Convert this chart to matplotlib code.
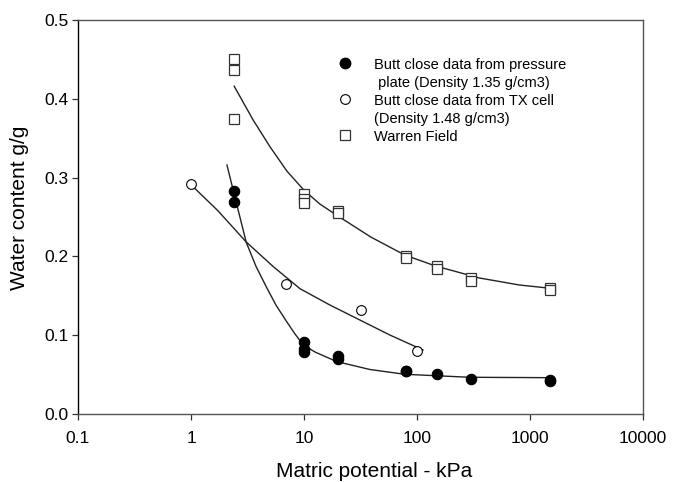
import matplotlib
matplotlib.use("Agg")
import matplotlib.pyplot as plt
from matplotlib.lines import Line2D

plt.rcParams['font.family'] = ['Liberation Sans', 'DejaVu Sans']

# Data points
pp_x = [2.4, 2.4, 10, 10, 10, 20, 20, 80, 80, 150, 300, 1500, 1500]
pp_y = [0.283, 0.269, 0.092, 0.083, 0.079, 0.073, 0.070, 0.055, 0.054, 0.051, 0.045, 0.043, 0.042]

tx_x = [1, 7, 32, 100]
tx_y = [0.292, 0.165, 0.132, 0.080]

wf_x = [2.4, 2.4, 2.4, 10, 10, 10, 20, 20, 80, 80, 150, 150, 300, 300, 1500, 1500]
wf_y = [0.450, 0.437, 0.374, 0.279, 0.273, 0.268, 0.258, 0.255, 0.200, 0.198,
        0.188, 0.184, 0.172, 0.169, 0.160, 0.157]

# Fitted curves
pp_fit_x = [2.08, 2.51, 3.08, 3.77, 4.69, 5.66, 7.04, 8.33, 9.86, 12.5, 19.4, 38.2, 77.9, 146, 292, 1452]
pp_fit_y = [0.316, 0.269, 0.218, 0.187, 0.160, 0.138, 0.117, 0.1015, 0.0876, 0.0787, 0.0666,
            0.0565, 0.0504, 0.0486, 0.0466, 0.0461]

tx_fit_x = [1.0, 1.74, 3.08, 5.33, 9.22, 16.96, 31.2, 57.4, 113]
tx_fit_y = [0.291, 0.2576, 0.2183, 0.1872, 0.1590, 0.1383, 0.1193, 0.1003, 0.0812]

wf_fit_x = [2.41, 3.55, 5.01, 7.08, 10.0, 13.8, 19.6, 39.0, 77.8, 146, 357, 806, 1574]
wf_fit_y = [0.416, 0.373, 0.339, 0.308, 0.284, 0.2665, 0.252, 0.2246, 0.2018, 0.1878,
            0.1726, 0.1637, 0.1593]

labels = ["Butt close data from pressure\n plate (Density 1.35 g/cm3)",
          "Butt close data from TX cell\n(Density 1.48 g/cm3)",
          "Warren Field"]

xticks = [0.1, 1, 10, 100, 1000, 10000]
xticklabels = ["0.1", "1", "10", "100", "1000", "10000"]
yticks = [0.0, 0.1, 0.2, 0.3, 0.4, 0.5]
yticklabels = ["0.0", "0.1", "0.2", "0.3", "0.4", "0.5"]

fig = plt.figure(figsize=(6.75, 4.82), dpi=100)
ax = fig.add_axes([78/675, 68/482, (643-78)/675, (414-20)/482])

lc = '#222222'
ax.plot(pp_fit_x, pp_fit_y, color=lc, lw=1.0, zorder=2)
ax.plot(tx_fit_x, tx_fit_y, color=lc, lw=1.0, zorder=2)
ax.plot(wf_fit_x, wf_fit_y, color=lc, lw=1.0, zorder=2)

ax.plot(pp_x, pp_y, 'o', ms=7.5, mfc='black', mec='black', mew=0.8, ls='none', zorder=3)
ax.plot(tx_x, tx_y, 'o', ms=7, mfc='white', mec='black', mew=0.8, ls='none', zorder=3)
ax.plot(wf_x, wf_y, 's', ms=6.5, mfc='white', mec='#333333', mew=0.9, ls='none', zorder=3)

ax.set_xscale('log')
ax.set_xlim(0.1, 10000)
ax.set_ylim(0, 0.5)
ax.set_xticks(xticks)
ax.set_xticklabels(xticklabels)
ax.xaxis.set_minor_locator(matplotlib.ticker.NullLocator())
ax.set_yticks(yticks)
ax.set_yticklabels(yticklabels)
ax.tick_params(axis='both', direction='out', length=4, width=0.9, labelsize=12.5, color='#333333')
ax.tick_params(axis='x', pad=8)
ax.tick_params(axis='y', pad=3)

for s in ['top', 'right', 'bottom']:
    ax.spines[s].set_color('#555555')
    ax.spines[s].set_linewidth(1.0)
ax.spines['left'].set_color('black')
ax.spines['left'].set_linewidth(1.0)

ax.set_xlabel("Matric potential - kPa", fontsize=15)
ax.set_ylabel("Water content g/g", fontsize=15)
ax.xaxis.set_label_coords((374 - 78) / 565, (414 - 462) / 394)
ax.yaxis.set_label_coords((29 - 78) / 565, (414 - 207.5) / 394)

handles = [
    Line2D([], [], marker='o', ms=7.5, mfc='black', mec='black', ls='none'),
    Line2D([], [], marker='o', ms=7, mfc='white', mec='black', mew=0.8, ls='none'),
    Line2D([], [], marker='s', ms=6.5, mfc='white', mec='#333333', mew=0.9, ls='none'),
]
leg = fig.legend(handles, labels, loc='upper left', bbox_to_anchor=(338/675, 1 - 57.5/482),
                 frameon=False, fontsize=10.5, handlelength=1.0, handletextpad=1.5,
                 labelspacing=0.3, borderpad=0, borderaxespad=0)
for t in leg.get_texts():
    t.set_linespacing(1.37)
for vp in leg._legend_handle_box.get_children():
    for hp in vp.get_children():
        hp.align = 'top'

fig.savefig("out.png", dpi=100)
